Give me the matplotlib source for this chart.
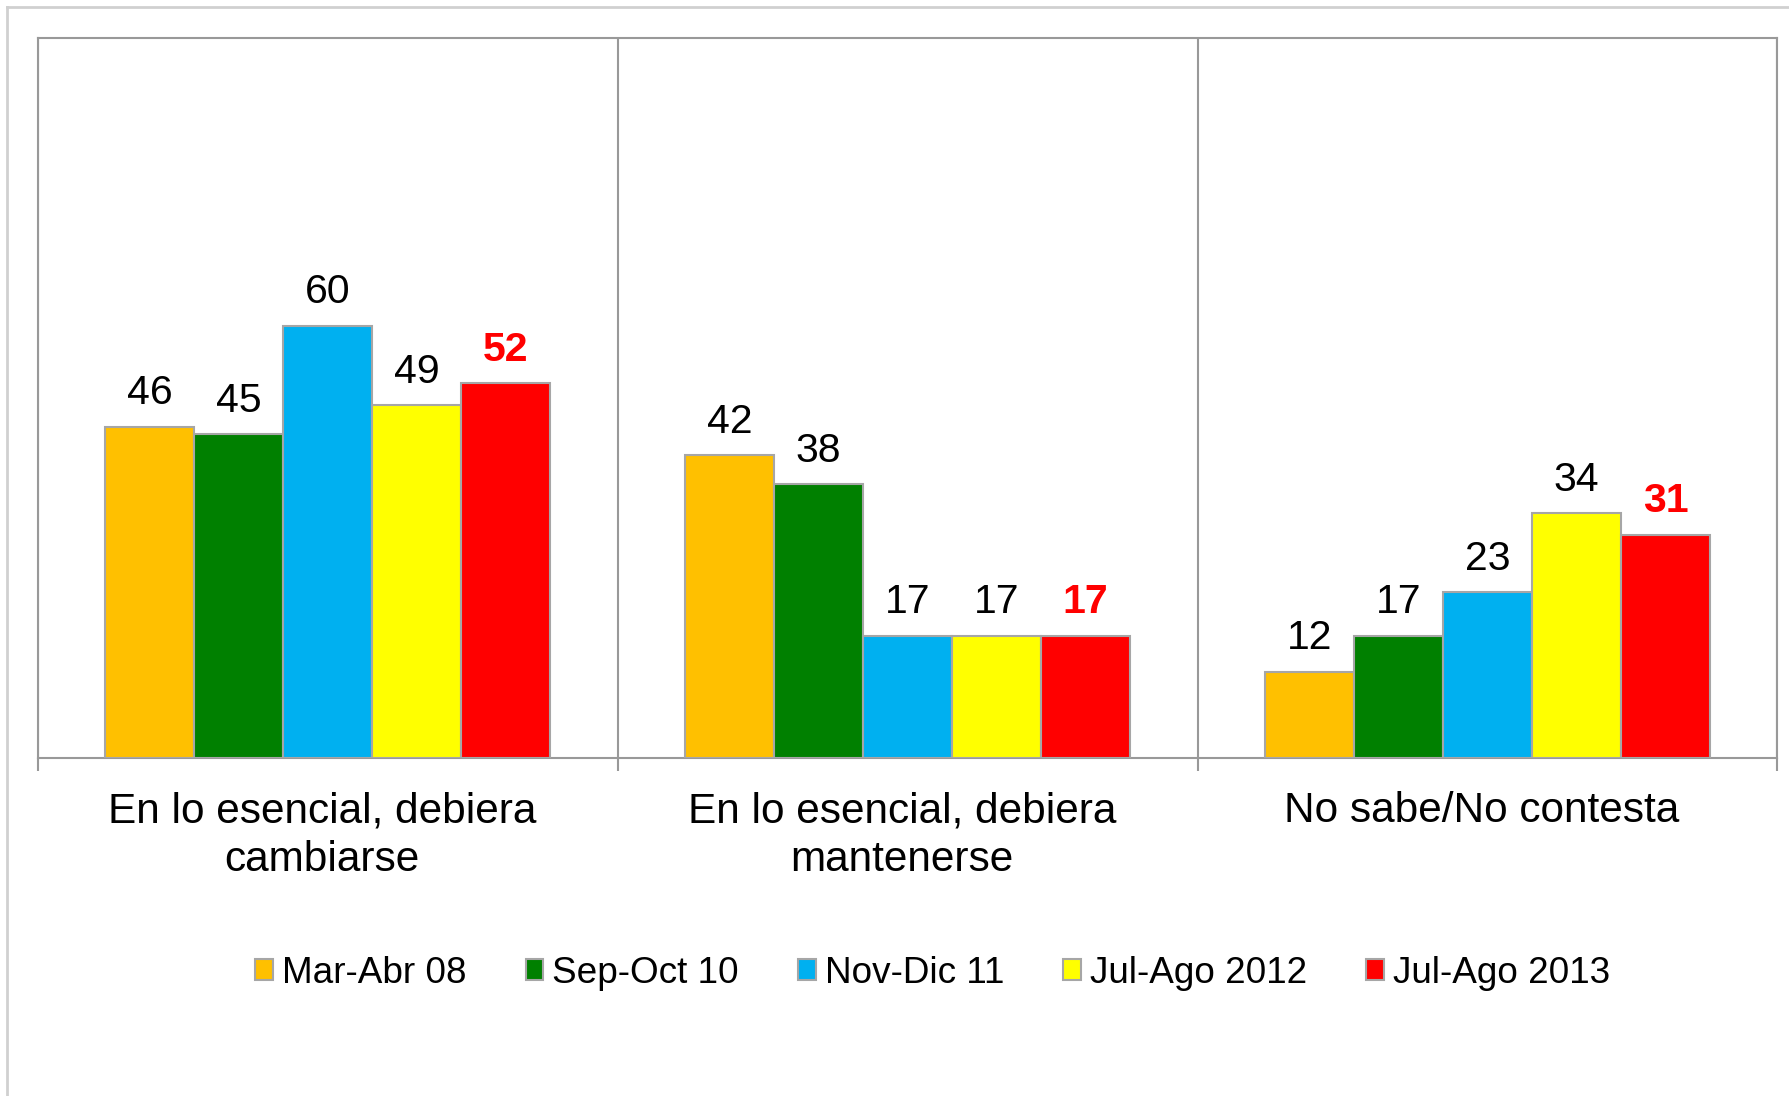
import matplotlib.pyplot as plt
import numpy as np
from matplotlib.lines import Line2D

plt.rcParams['font.family'] = ['Liberation Sans', 'DejaVu Sans']

categories = ["En lo esencial, debiera\ncambiarse",
              "En lo esencial, debiera\nmantenerse",
              "No sabe/No contesta"]
series_names = ["Mar-Abr 08", "Sep-Oct 10", "Nov-Dic 11", "Jul-Ago 2012", "Jul-Ago 2013"]
mar_abr_08 = [46, 42, 12]
sep_oct_10 = [45, 38, 17]
nov_dic_11 = [60, 17, 23]
jul_ago_2012 = [49, 17, 34]
jul_ago_2013 = [52, 17, 31]
colors = ["#FFC000", "#008000", "#00B0F0", "#FFFF00", "#FF0000"]

series = [mar_abr_08, sep_oct_10, nov_dic_11, jul_ago_2012, jul_ago_2013]

fig = plt.figure(figsize=(17.9, 10.96), dpi=100)
ax = fig.add_axes([0.021, 0.3084, 0.972, 0.6572])

x = np.arange(len(categories))
w = 78 / 508
for i, (vals, name, col) in enumerate(zip(series, series_names, colors)):
    pos = x + (i - 2) * w
    ax.bar(pos, vals, width=w, color=col, edgecolor="#A6A6A6", linewidth=1.5, label=name, zorder=3)
    last = i == len(series) - 1
    for px, v in zip(pos, vals):
        ax.annotate(str(v), (px, v), xytext=(0, 24), textcoords="offset points",
                    ha="center", va="center", fontsize=29.5,
                    color="#FF0000" if last else "black",
                    fontweight="bold" if last else "normal")

ax.set_xlim(-0.5, 2.5)
ax.set_ylim(0, 100)
ax.set_yticks([])

# separators at category boundaries, labels centred
ax.set_xticks([-0.5, 0.5, 1.5, 2.5])
ax.set_xticklabels([])
ax.tick_params(axis="x", which="major", direction="out", length=9, width=1.5, color="#999999")
ax.set_xticks(x - 0.01, minor=True)
ax.set_xticklabels(categories, minor=True, fontsize=30.5)
ax.tick_params(axis="x", which="minor", length=0, pad=24)
for t in ax.get_xticklabels(minor=True):
    t.set_linespacing(1.28)
ax.grid(axis="x", which="major", color="#999999", linewidth=1.5, zorder=0)

for s in ax.spines.values():
    s.set_color("#999999")
    s.set_linewidth(1.5)

leg = fig.legend(loc="center", bbox_to_anchor=(0.521, 0.112), ncol=5, frameon=False,
                 fontsize=26.6, handlelength=0.48, handleheight=0.48,
                 handletextpad=0.24, columnspacing=1.6)

# light outer border (top and left visible)
fig.add_artist(Line2D([7 / 1790, 7 / 1790], [0, 1 - 7 / 1096], color="#D0D0D0", linewidth=2,
                      transform=fig.transFigure))
fig.add_artist(Line2D([7 / 1790, 1], [1 - 7 / 1096, 1 - 7 / 1096], color="#D0D0D0", linewidth=2,
                      transform=fig.transFigure))

fig.savefig("out.png", dpi=100)
